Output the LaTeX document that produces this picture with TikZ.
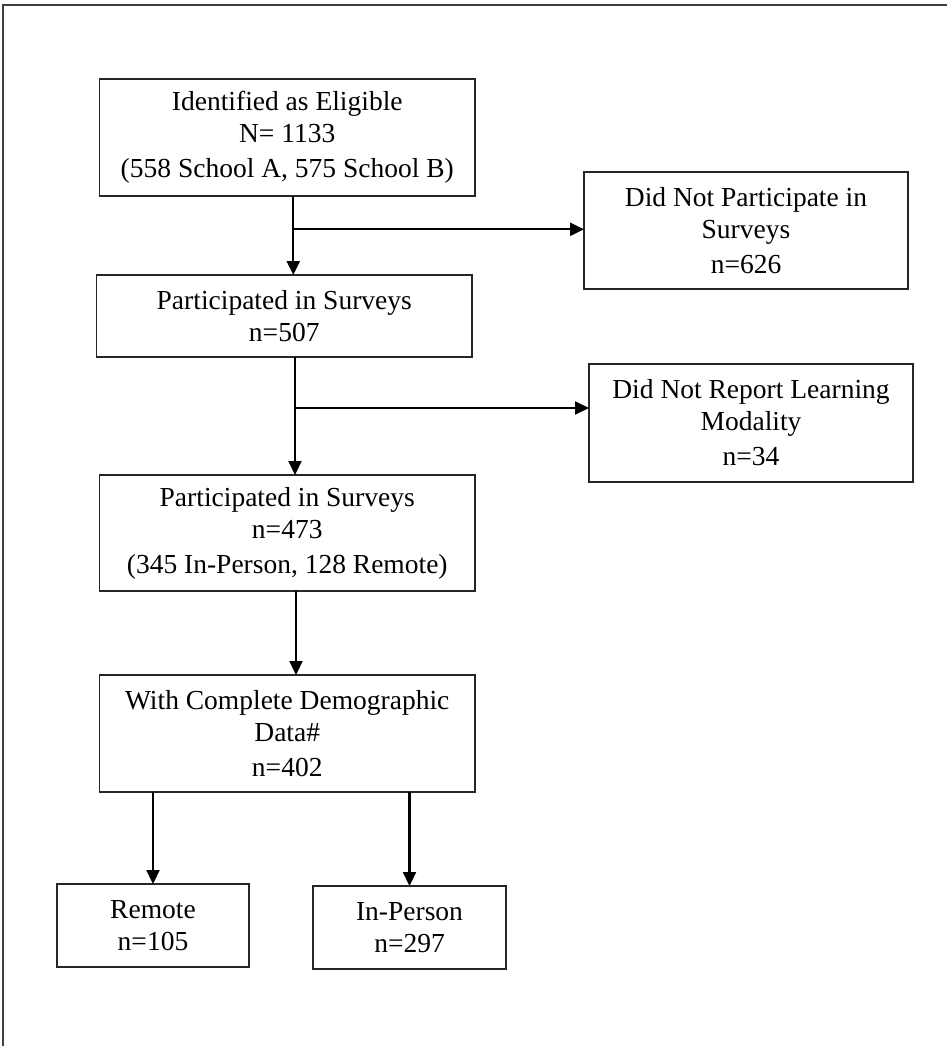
\documentclass[tikz,border=0pt]{standalone}
\usepackage{fontspec}
\setmainfont{Liberation Serif}
\usetikzlibrary{arrows.meta}
\begin{document}
\begin{tikzpicture}[x=1pt,y=-1pt,
  box/.style={draw=black!85, line width=1.3pt, inner sep=0pt, outer sep=0pt, align=center,
    font=\fontsize{27.5}{32}\selectfont},
  arr/.style={draw=black, line width=2.2pt, -{Triangle[length=14pt,width=13pt]}},
  frame/.style={draw=black!75, line width=1.5pt}]
\useasboundingbox (0,0) rectangle (946,1046);
\draw[frame] (3,1050) -- (3,5) -- (950,5);

\node[box, minimum width=375.5pt, minimum height=117pt] (b1) at (287.25,137.5)
  {Identified as Eligible\\N= 1133\\[3pt](558 School A, 575 School B)};
\node[box, minimum width=324pt, minimum height=117pt] (dnp) at (746,230.5)
  {Did Not Participate in\\Surveys\\[3pt]n=626};
\node[box, minimum width=375.5pt, minimum height=82pt] (b2) at (284.25,316)
  {Participated in Surveys\\n=507};
\node[box, minimum width=324pt, minimum height=118pt] (dnr) at (751,423)
  {Did Not Report Learning\\Modality\\[3pt]n=34};
\node[box, minimum width=375.5pt, minimum height=116pt] (b3) at (287.25,533)
  {Participated in Surveys\\n=473\\[3pt](345 In-Person, 128 Remote)};
\node[box, minimum width=375.5pt, minimum height=117pt] (b4) at (287.25,733.5)
  {With Complete Demographic\\Data\#\\[3pt]n=402};
\node[box, minimum width=192pt, minimum height=83pt] (rem) at (153,925.5)
  {Remote\\n=105};
\node[box, minimum width=193pt, minimum height=83pt] (inp) at (409.5,927.5)
  {In-Person\\n=297};

\coordinate (j1) at (293.3,229.3);
\coordinate (j2) at (295,408);
\coordinate (j3) at (296,650);

\draw[arr] (b1.south -| j1) -- (b2.north -| j1);
\draw[arr] (j1) -- (dnp.west |- j1);
\draw[arr] (b2.south -| j2) -- (b3.north -| j2);
\draw[arr] (j2) -- (dnr.west |- j2);
\draw[arr] (b3.south -| j3) -- (b4.north -| j3);
\draw[arr] (b4.south -| rem.north) -- (rem.north);
\draw[arr] (b4.south -| inp.north) -- (inp.north);
\end{tikzpicture}
\end{document}
